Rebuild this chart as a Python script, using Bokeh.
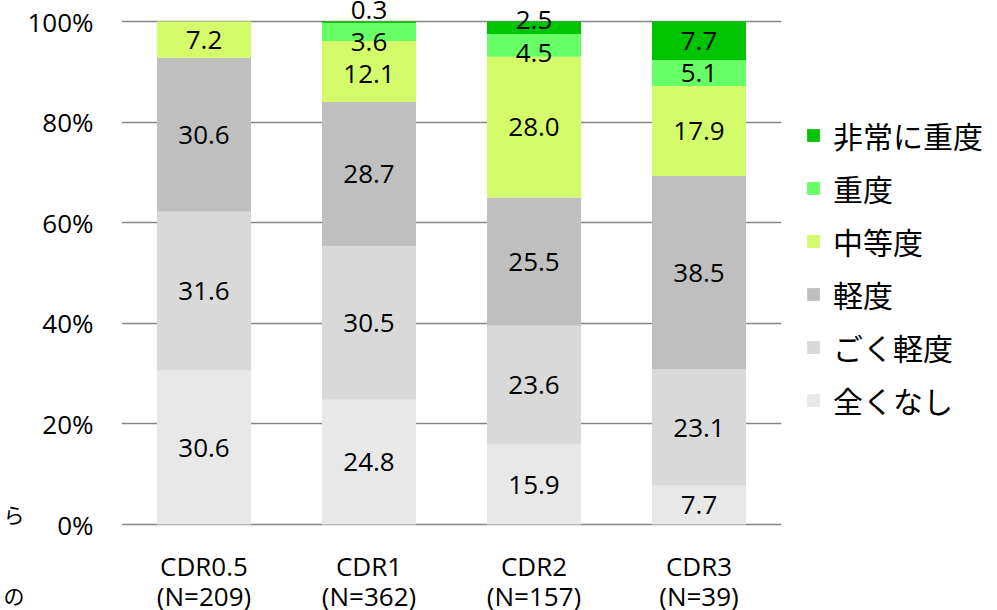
from bokeh.plotting import figure
from bokeh.models import (ColumnDataSource, Range1d, Legend, LegendItem,
                          FixedTicker, LabelSet, LinearAxis)
from bokeh.core.properties import value
from bokeh.embed import file_html
from bokeh.resources import INLINE

categories = ["CDR0.5", "CDR1", "CDR2", "CDR3"]
n_labels = ["(N=209)", "(N=362)", "(N=157)", "(N=39)"]
series = ["全くなし", "ごく軽度", "軽度", "中等度", "重度", "非常に重度"]
nashi = [30.6, 24.8, 15.9, 7.7]
goku_keido = [31.6, 30.5, 23.6, 23.1]
keido = [30.6, 28.7, 25.5, 38.5]
chutoudo = [7.2, 12.1, 28.0, 17.9]
juudo = [0.0, 3.6, 4.5, 5.1]
hijou_juudo = [0.0, 0.3, 2.5, 7.7]
y_ticks = [0, 20, 40, 60, 80, 100]
fragment_texts = {2: "ら", -14: "の"}

values = [nashi, goku_keido, keido, chutoudo, juudo, hijou_juudo]
colors = ["#e8e8e8", "#d9d9d9", "#bfbfbf", "#d4fc6a", "#66ff66", "#00c400"]

# layout constants (pixels)
PX = 5.03          # pixels per percent
TOP_PAD = 21       # pixels above 100%
BOTTOM_PAD = 86    # pixels below 0%

data = {"cat": categories}
for s, v in zip(series, values):
    data[s] = v
src = ColumnDataSource(data)

p = figure(x_range=categories,
           y_range=Range1d(-BOTTOM_PAD / PX, 100 + TOP_PAD / PX),
           frame_width=660, frame_height=610,
           output_backend="svg", toolbar_location=None,
           min_border_left=120, min_border_right=0, min_border_top=0,
           min_border_bottom=0)
p.outline_line_color = None
p.x_range.range_padding = 0.0
p.xaxis.visible = False

p.xgrid.grid_line_color = None
p.ygrid.ticker = FixedTicker(ticks=y_ticks)
p.ygrid.grid_line_color = "#868686"
p.ygrid.grid_line_width = 1.5
p.ygrid.level = "underlay"

renderers = p.vbar_stack(series, x="cat", width=0.57, source=src,
                         color=colors, line_color=None)

# value labels centred in segments, pushed apart when too close
lx, ly, lt = [], [], []
for i, c in enumerate(categories):
    bottom = 0.0
    items = []
    for v in values:
        val = v[i]
        if val > 0:
            items.append([bottom + val / 2.0, val])
        bottom += val
    for _ in range(20):
        for k in range(len(items) - 1, 0, -1):
            hi, lo = items[k], items[k - 1]
            if hi[0] - lo[0] < 6.4:
                m = (hi[0] + lo[0]) / 2.0
                hi[0] = m + 3.2
                lo[0] = m - 3.2
    for y, val in items:
        lx.append(c)
        ly.append(y)
        lt.append(f"{val:.1f}")
lsrc = ColumnDataSource(dict(x=lx, y=ly, t=lt))
p.add_layout(LabelSet(x="x", y="y", text="t", source=lsrc, text_align="center",
                      text_baseline="middle", text_font=value("Open Sans"),
                      text_font_size=value("26px"), text_color="#000000"))

# category labels (two lines) below the bars
csrc = ColumnDataSource(dict(x=categories, y1=[-41 / PX] * 4, y2=[-71 / PX] * 4,
                             t1=categories, t2=n_labels))
for ycol, tcol in (("y1", "t1"), ("y2", "t2")):
    p.add_layout(LabelSet(x="x", y=ycol, text=tcol, source=csrc,
                          text_align="center", text_baseline="middle",
                          text_font=value("Open Sans"),
                          text_font_size=value("26px"), text_color="#000000"))

p.yaxis.ticker = FixedTicker(ticks=y_ticks)
p.yaxis.major_label_overrides = {t: f"{t}%" for t in y_ticks}
p.yaxis.axis_line_color = None
p.yaxis.major_tick_line_color = None
p.yaxis.minor_tick_line_color = None
p.yaxis.major_tick_out = 0
p.yaxis.major_tick_in = 0
p.yaxis.minor_tick_out = 0
p.yaxis.major_label_standoff = 28
p.yaxis.major_label_text_font = "Open Sans"
p.yaxis.major_label_text_font_size = "26px"
p.yaxis.major_label_text_color = "#000000"

# cropped text fragments at the far left edge
frag = LinearAxis(ticker=FixedTicker(ticks=list(fragment_texts.keys())),
                  major_label_overrides=fragment_texts,
                  axis_line_color=None, major_tick_line_color=None,
                  minor_tick_line_color=None, major_tick_out=0, major_tick_in=0,
                  minor_tick_out=0, major_label_standoff=0,
                  major_label_text_font="Noto Sans CJK JP",
                  major_label_text_font_size="21px",
                  major_label_text_color="#000000")
p.add_layout(frag, "left")

items = [LegendItem(label=s, renderers=[r]) for s, r in zip(series, renderers)]
items = items[::-1]
legend = Legend(items=items, location=(24, 188),
                orientation="vertical",
                label_text_font="Noto Sans CJK JP", label_text_font_size="30px",
                label_text_color="#000000", glyph_width=16, glyph_height=16,
                label_height=34, spacing=9, label_standoff=12, padding=0,
                margin=0, background_fill_alpha=0, border_line_color=None)
p.add_layout(legend, "right")

open("out.html", "w").write(file_html(p, INLINE))
